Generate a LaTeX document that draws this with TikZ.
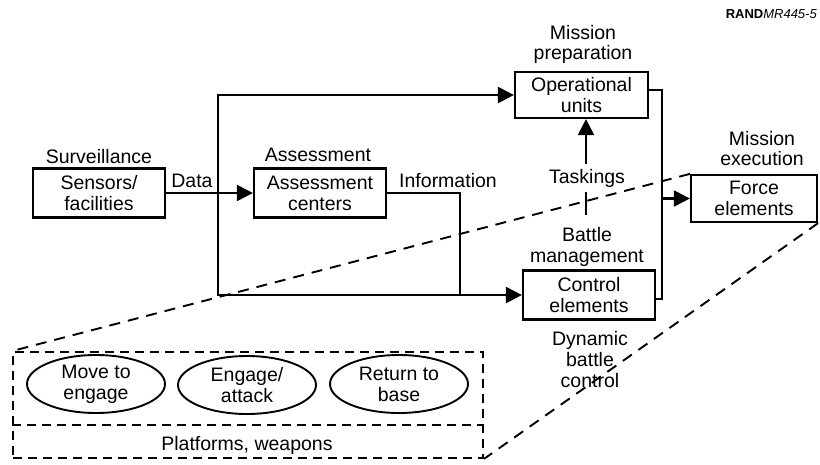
\documentclass[tikz,border=0pt]{standalone}
\usepackage{fontspec}
\setmainfont{Liberation Sans}
\usetikzlibrary{arrows.meta,shapes.geometric,calc}
\begin{document}
\begin{tikzpicture}[x=1pt,y=-1pt,
  every node/.style={font=\fontsize{19.5}{21}\selectfont, inner sep=0pt},
  box/.style={draw, line width=2.2pt, minimum width=132pt, minimum height=49pt, align=center},
  oval/.style={draw, ellipse, line width=1.9pt, minimum width=138pt, minimum height=58pt, align=center},
  lbl/.style={anchor=base},
  flow/.style={line width=2.1pt, -{Triangle[length=16pt,width=16pt]}},
  wire/.style={line width=2.1pt},
  dsh/.style={line width=1.9pt, dash pattern=on 11pt off 8pt},
  dbox/.style={line width=1.9pt, dash pattern=on 9pt off 6pt},
]
\useasboundingbox (0,0) rectangle (820,464);

% boxes
\node[box] (sen) at (99,193) {Sensors/\\facilities};
\node[box] (ac) at (320,193) {Assessment\\centers};
\node[box, minimum width=133pt, minimum height=46pt] (op) at (581.5,95) {Operational\\units};
\node[box] (ce) at (589,295) {Control\\elements};
\node[box, minimum width=126pt, minimum height=47pt] (fe) at (754,198.5) {Force\\elements};

% labels
\node[lbl] (lsur) at (99,163) {Surveillance};
\node[lbl] (ldata) at (192,187) {Data};
\node[lbl] (lass) at (318,161) {Assessment};
\node[lbl] (linfo) at (448,187) {Information};
\node[lbl] (lmp1) at (583,39) {Mission};
\node[lbl] (lmp2) at (583,59) {preparation};
\node[lbl] (lbm1) at (587,241) {Battle};
\node[lbl] (lbm2) at (587,262) {management};
\node[lbl] (ldb1) at (590,345) {Dynamic};
\node[lbl] (ldb2) at (590,366) {battle};
\node[lbl] (ldb3) at (590,387) {control};
\node[lbl] (lme1) at (762,145) {Mission};
\node[lbl] (lme2) at (762,165) {execution};
\node[anchor=base east, font=\fontsize{13}{15}\selectfont] (rand) at (817,18) {\textbf{RAND}\textit{MR445-5}};

% platforms box
\node[draw, dbox, minimum width=470pt, minimum height=106pt] (plat) at (248,405) {};
\coordinate (dv) at (0,425);
\draw[dbox] (plat.west |- dv) -- (plat.east |- dv);
\node[oval] (e1) at (96,384) {Move to\\engage};
\node[oval] (e2) at (247,385) {Engage/\\attack};
\node[oval] (e3) at (399,384) {Return to\\base};
\node[lbl] (lpw) at (247,450) {Platforms, weapons};

% connectors
\coordinate (j) at (218,193);
\coordinate (k) at (460,295);
\coordinate (rb) at (662,299);
\coordinate (m) at (662,198.5);
\coordinate (tb) at (586,215);
\draw[flow] (sen.east) -- (ac.west);
\draw[flow] (j) |- (op.west);
\draw[flow] (j) |- (ce.west);
\draw[wire] (ac.east) -| (k);
\draw[wire] ([yshift=5pt]op.east) -| (rb) -- ([yshift=-4pt]ce.east);
\draw[flow] (m) -- (fe.west);
\draw[flow] (tb) -- (tb |- op.south);
\node[lbl, fill=white, inner xsep=2pt, inner ysep=5pt] (ltask) at (587,183) {Taskings};

% dashed projection lines
\draw[dsh] (fe.north west) -- (plat.north west);
\draw[dsh] (fe.south east) -- (plat.south east);
\end{tikzpicture}
\end{document}
